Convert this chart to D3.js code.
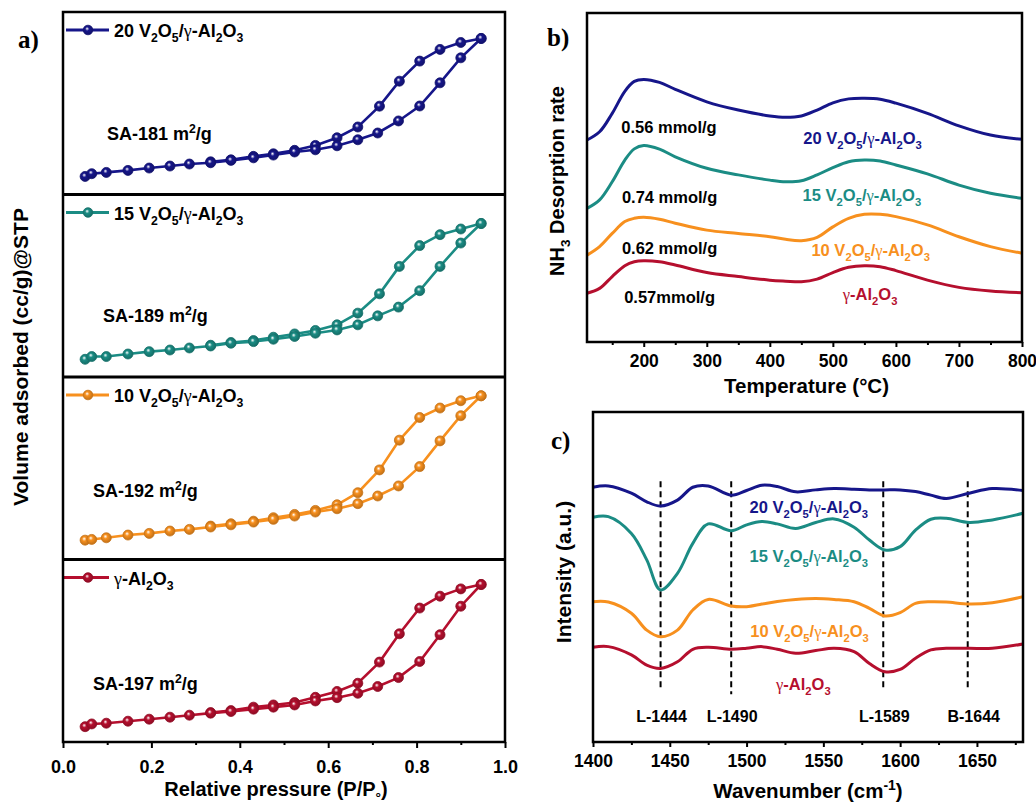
<!DOCTYPE html>
<html>
<head>
<meta charset="utf-8">
<script src="https://cdn.jsdelivr.net/npm/d3@7"></script>
<style>
  body { margin: 0; background: #fff; }
  svg { display: block; }
</style>
</head>
<body>
<svg id="chart" width="1036" height="804"></svg>
<script>
"use strict";

// ---- a) N2 isotherms ----
const pressureAds = [0.05, 0.065, 0.098, 0.147, 0.195, 0.242, 0.286, 0.334, 0.38, 0.431, 0.476,
    0.524, 0.571, 0.62, 0.667, 0.712, 0.759, 0.807, 0.853, 0.9, 0.946];
const pressureDes = [0.946, 0.9, 0.853, 0.807, 0.761, 0.716, 0.667, 0.62, 0.571, 0.524, 0.476, 0.431, 0.38, 0.334];

const volAds20 = [9.9, 11.4, 12.1, 13.2, 14.5, 15.6, 16.7, 17.4, 18.7, 20.1, 21.6, 23.3, 24.5, 26.7, 30.0, 33.7, 40.3, 48.5, 61.2, 74.9, 85.5];
const volDes20 = [85.5, 83.3, 79.5, 73.1, 62.1, 48.4, 37.0, 31.1, 26.9, 24.2, 22.3, 20.9, 19.0, 17.9];
const volAds15 = [9.7, 11.2, 11.2, 12.6, 13.9, 14.8, 15.9, 17.0, 18.5, 19.4, 20.7, 22.2, 24.0, 25.8, 28.6, 33.5, 38.3, 47.3, 60.6, 73.4, 84.1];
const volDes15 = [84.1, 81.1, 78.0, 72.0, 60.6, 45.6, 35.0, 28.6, 25.5, 23.6, 21.8, 20.0, 18.9, 17.4];
const volAds10 = [10.6, 11.0, 11.9, 13.4, 14.3, 15.6, 16.5, 17.8, 19.0, 20.5, 22.0, 23.8, 26.0, 27.8, 30.6, 34.8, 40.3, 50.9, 65.0, 78.8, 89.7];
const volDes10 = [89.7, 87.0, 83.0, 77.8, 65.4, 49.1, 36.6, 30.0, 26.9, 24.7, 22.9, 21.0, 19.6, 18.3];
const volAdsAl = [8.4, 9.9, 10.3, 11.4, 12.5, 13.6, 14.7, 15.8, 16.7, 18.0, 19.1, 20.3, 22.5, 24.3, 26.7, 30.4, 35.3, 44.1, 58.8, 74.4, 86.3];
const volDesAl = [86.3, 83.9, 79.9, 73.4, 59.3, 43.8, 32.2, 27.7, 24.5, 21.6, 20.3, 19.1, 17.2, 16.1];

const sampleNames = ["20 V_2O_5/γ-Al_2O_3", "15 V_2O_5/γ-Al_2O_3", "10 V_2O_5/γ-Al_2O_3", "γ-Al_2O_3"];
const sampleColors = ["#16168a", "#1b8c84", "#f7901e", "#b50f2e"];
const surfaceAreas = ["SA-181 m^2/g", "SA-189 m^2/g", "SA-192 m^2/g", "SA-197 m^2/g"];
const pressureTicks = [0, 0.2, 0.4, 0.6, 0.8, 1.0];

// ---- b) NH3-TPD ----
const tpdTemp = [110, 130, 150, 170, 185, 200, 225, 250, 300, 350, 400, 425, 450, 475, 500, 525, 550, 575, 600, 650, 700, 750, 800];
const tpd20 = [61.4, 63.9, 69.5, 76.2, 79.2, 79.8, 78.9, 76.8, 73.0, 70.5, 68.7, 68.3, 68.7, 70.5, 72.7, 73.9, 74.1, 73.8, 72.6, 69.5, 65.7, 62.9, 61.6];
const tpd15 = [40.6, 43.2, 48.7, 55.3, 58.7, 59.7, 58.6, 56.3, 52.8, 50.8, 49.2, 48.7, 49.0, 50.8, 53.0, 54.8, 55.3, 55.0, 53.8, 51.1, 47.7, 45.2, 43.7];
const tpd10 = [26.4, 29.0, 33.0, 36.6, 37.6, 37.9, 37.3, 36.1, 34.0, 33.0, 32.0, 31.2, 30.8, 31.8, 35.0, 37.6, 38.8, 38.8, 38.1, 35.6, 32.0, 29.0, 27.0];
const tpdAl = [14.8, 16.3, 19.9, 23.2, 24.4, 24.7, 24.4, 23.4, 21.1, 19.9, 18.8, 18.5, 18.3, 19.1, 21.1, 22.7, 23.2, 22.9, 21.7, 18.8, 16.6, 15.5, 15.0];
const acidAmounts = ["0.56 mmol/g", "0.74 mmol/g", "0.62 mmol/g", "0.57mmol/g"];
const tempTicks = [200, 300, 400, 500, 600, 700, 800];

// ---- c) Py-IR ----
const irWave = [1400, 1410, 1425, 1435, 1444, 1455, 1465, 1475, 1490, 1500, 1510, 1520, 1532, 1545, 1557, 1570, 1580, 1590, 1600, 1610, 1620, 1630, 1645, 1660, 1680];
const ir20 = [77.2, 77.6, 75.4, 72.8, 71.5, 73.3, 77.2, 77.6, 74.8, 76.2, 77.8, 77.4, 75.8, 76.4, 76.8, 76.6, 76.4, 76.4, 76.4, 75.9, 74.8, 73.8, 75.4, 76.8, 76.2];
const ir15 = [68.1, 68.3, 63.2, 55.2, 46.1, 51.1, 60.2, 66.1, 64.0, 65.8, 66.8, 66.1, 64.7, 66.5, 67.6, 65.1, 61.2, 58.2, 59.2, 64.2, 67.5, 67.8, 66.5, 67.3, 69.3];
const ir10 = [42.5, 42.4, 39.0, 33.9, 31.9, 33.9, 40.0, 43.2, 41.2, 41.0, 41.8, 42.6, 43.2, 43.5, 43.2, 42.5, 40.5, 38.2, 39.2, 42.0, 42.5, 42.4, 41.8, 42.2, 44.0];
const irAl = [28.7, 28.9, 26.4, 23.3, 22.3, 24.3, 28.1, 28.7, 28.1, 28.4, 28.9, 28.1, 26.9, 27.7, 28.4, 27.4, 23.8, 21.3, 22.0, 25.4, 27.9, 28.4, 28.4, 28.4, 29.7];
const irBands = [1444, 1490, 1589, 1644];
const irBandLabels = ["L-1444", "L-1490", "L-1589", "B-1644"];
const waveTicks = [1400, 1450, 1500, 1550, 1600, 1650];

const FONT = "'Liberation Sans', Arial, Helvetica, sans-serif";
const SERIF = "'Liberation Serif', 'Times New Roman', serif";

const svg = d3.select("#chart");
svg.append("rect").attr("width", 1036).attr("height", 804).attr("fill", "#fff");

// text with _x subscripts, ^x superscripts, {..} groups, serif gamma
function richText(g, x, y, str, size, color, anchor) {
    const t = g.append("text")
        .attr("x", x).attr("y", y)
        .attr("font-family", FONT).attr("font-weight", "bold")
        .attr("font-size", size).attr("fill", color || "#000")
        .attr("text-anchor", anchor || "start");
    const parts = str.match(/_\{[^}]*\}|\^\{[^}]*\}|_.|\^.|γ|[^_^γ]+/g);
    let shift = 0;
    parts.forEach((p) => {
        let kind = "n", s = p;
        if (p[0] === "_" || p[0] === "^") {
            kind = p[0] === "_" ? "sub" : "sup";
            s = p.slice(1).replace(/[{}]/g, "");
        } else if (p === "γ") kind = "g";
        const ts = t.append("tspan").text(s);
        let target = 0;
        if (kind === "sub") { target = size * 0.28; ts.attr("font-size", size * 0.68); }
        if (kind === "sup") { target = -size * 0.38; ts.attr("font-size", size * 0.68); }
        if (kind === "g") ts.attr("font-family", SERIF).attr("font-weight", "normal");
        if (target - shift !== 0) ts.attr("dy", target - shift);
        shift = target;
    });
    return t;
}

// shaded ball markers
const defs = svg.append("defs");
sampleColors.forEach((c, i) => {
    const grad = defs.append("radialGradient").attr("id", "ball" + i)
        .attr("cx", "45%").attr("cy", "45%").attr("r", "60%").attr("fx", "40%").attr("fy", "35%");
    grad.append("stop").attr("offset", "0%").attr("stop-color", "#fff");
    grad.append("stop").attr("offset", "35%").attr("stop-color", c);
    grad.append("stop").attr("offset", "100%").attr("stop-color", d3.color(c).darker(0.8));
});

function styleAxis(g, size) {
    g.select(".domain").remove();
    g.selectAll("line").attr("stroke", "#000").attr("stroke-width", 2);
    g.selectAll("text").attr("font-family", FONT).attr("font-weight", "bold")
        .attr("font-size", size).attr("fill", "#000");
}

// ================= panel a =================
const aL = 63, aR = 505, aT = 12, aB = 742;
const subH = (aB - aT) / 4;
const xA = d3.scaleLinear().domain([0, 1]).range([aL, aR]);
const adsSets = [volAds20, volAds15, volAds10, volAdsAl];
const desSets = [volDes20, volDes15, volDes10, volDesAl];
const saPos = [[107, 140], [103, 322], [93, 497], [93, 690]];

const panelA = svg.append("g");
adsSets.forEach((ads, i) => {
    const top = aT + i * subH;
    const yA = d3.scaleLinear().domain([0, 100]).range([top + subH, top]);
    const line = d3.line().x((d) => xA(d[0])).y((d) => yA(d[1]));
    const adsPts = pressureAds.map((p, k) => [p, ads[k]]);
    const desPts = pressureDes.map((p, k) => [p, desSets[i][k]]);
    const g = panelA.append("g");
    [desPts, adsPts].forEach((pts) => {
        g.append("path").attr("d", line(pts)).attr("fill", "none")
            .attr("stroke", sampleColors[i]).attr("stroke-width", 2.6);
    });
    g.selectAll("circle.m").data(desPts.concat(adsPts)).enter().append("circle")
        .attr("cx", (d) => xA(d[0])).attr("cy", (d) => yA(d[1])).attr("r", 5)
        .attr("fill", `url(#ball${i})`).attr("stroke", d3.color(sampleColors[i]).darker(0.6))
        .attr("stroke-width", 0.8);

    // legend
    const ly = top + 18;
    g.append("line").attr("x1", i === 3 ? aL : aL + 3).attr("x2", aL + 46).attr("y1", ly).attr("y2", ly)
        .attr("stroke", sampleColors[i]).attr("stroke-width", 3);
    g.append("circle").attr("cx", aL + 25).attr("cy", ly).attr("r", 4.8)
        .attr("fill", `url(#ball${i})`).attr("stroke", d3.color(sampleColors[i]).darker(0.6)).attr("stroke-width", 0.8);
    richText(g, aL + 51, ly + 7, sampleNames[i], 18, "#000");

    richText(g, saPos[i][0], saPos[i][1], surfaceAreas[i], 18, "#000");
});

// frame and separators
panelA.append("rect").attr("x", aL).attr("y", aT).attr("width", aR - aL).attr("height", aB - aT)
    .attr("fill", "none").attr("stroke", "#000").attr("stroke-width", 2.5);
[1, 2, 3].forEach((k) => {
    panelA.append("line").attr("x1", aL).attr("x2", aR)
        .attr("y1", aT + k * subH).attr("y2", aT + k * subH)
        .attr("stroke", "#000").attr("stroke-width", 3);
});

panelA.append("g").attr("transform", `translate(0,${aB})`)
    .call(d3.axisBottom(xA).tickValues(pressureTicks).tickFormat(d3.format(".1f")).tickSize(6).tickPadding(12))
    .call((g) => styleAxis(g, 18));
panelA.append("g").attr("transform", `translate(0,${aB})`)
    .call(d3.axisBottom(xA).tickValues([0.1, 0.3, 0.5, 0.7, 0.9]).tickFormat("").tickSize(3))
    .call((g) => styleAxis(g, 18));

richText(panelA, (aL + aR) / 2 - 8, 796, "Relative pressure (P/P_{°})", 20, "#000", "middle");
richText(panelA.append("g").attr("transform", "translate(28,357) rotate(-90)"), 0, 0,
    "Volume adsorbed (cc/g)@STP", 21, "#000", "middle");
panelA.append("text").attr("x", 18).attr("y", 48).attr("font-family", SERIF)
    .attr("font-weight", "bold").attr("font-size", 25).text("a)");

// ================= panel b =================
const bL = 587, bR = 1022, bT = 13, bB = 342;
const xB = d3.scaleLinear().domain([110, 800]).range([bL, bR]);
const yB = d3.scaleLinear().domain([0, 100]).range([bB, bT]);
const tpdSets = [tpd20, tpd15, tpd10, tpdAl];
const panelB = svg.append("g");
const lineB = d3.line().curve(d3.curveCatmullRom.alpha(0.5)).x((d) => xB(d[0])).y((d) => yB(d[1]));
tpdSets.forEach((vals, i) => {
    panelB.append("path").attr("d", lineB(tpdTemp.map((t, k) => [t, vals[k]])))
        .attr("fill", "none").attr("stroke", sampleColors[i]).attr("stroke-width", 3);
});
const acidPos = [[240, 133], [241, 203], [241, 254], [241, 303]];
const namePosB = [[547, 144], [546, 201], [560, 256], [559, 300]];
acidAmounts.forEach((s, i) => {
    richText(panelB, xB(acidPos[i][0]), acidPos[i][1], s, 16.5, "#000", "middle");
    richText(panelB, xB(namePosB[i][0]), namePosB[i][1], sampleNames[i], 16.5, sampleColors[i], "middle");
});
panelB.append("rect").attr("x", bL).attr("y", bT).attr("width", bR - bL).attr("height", bB - bT)
    .attr("fill", "none").attr("stroke", "#000").attr("stroke-width", 2.5);
panelB.append("g").attr("transform", `translate(0,${bB})`)
    .call(d3.axisBottom(xB).tickValues(tempTicks).tickFormat(d3.format("d")).tickSize(5).tickPadding(8))
    .call((g) => styleAxis(g, 17.5));
panelB.append("g").attr("transform", `translate(0,${bB})`)
    .call(d3.axisBottom(xB).tickValues([150, 250, 350, 450, 550, 650, 750]).tickFormat("").tickSize(3))
    .call((g) => styleAxis(g, 17.5));
richText(panelB, (bL + bR) / 2 + 2, 393, "Temperature (°C)", 20.5, "#000", "middle");
richText(panelB.append("g").attr("transform", "translate(564,181) rotate(-90)"), 0, 0,
    "NH_3 Desorption rate", 20, "#000", "middle");
panelB.append("text").attr("x", 547).attr("y", 46).attr("font-family", SERIF)
    .attr("font-weight", "bold").attr("font-size", 25).text("b)");

// ================= panel c =================
const cL = 593, cR = 1023, cT = 412, cB = 742;
const xC = d3.scaleLinear().domain([1400, 1680]).range([cL, cR]);
const yC = d3.scaleLinear().domain([0, 100]).range([cB, cT]);
const irSets = [ir20, ir15, ir10, irAl];
const panelC = svg.append("g");
const lineC = d3.line().curve(d3.curveCatmullRom.alpha(0.5)).x((d) => xC(d[0])).y((d) => yC(d[1]));
irBands.forEach((w, i) => {
    panelC.append("line").attr("x1", xC(w)).attr("x2", xC(w))
        .attr("y1", yC(79)).attr("y2", yC(i === 1 ? 14.5 : 16.5))
        .attr("stroke", "#000").attr("stroke-width", 2).attr("stroke-dasharray", "6,4");
    richText(panelC, xC(w) + (i === 3 ? 6 : 1), 722, irBandLabels[i], 16, "#000", "middle");
});
irSets.forEach((vals, i) => {
    panelC.append("path").attr("d", lineC(irWave.map((w, k) => [w, vals[k]])))
        .attr("fill", "none").attr("stroke", sampleColors[i]).attr("stroke-width", 3);
});
const namePosC = [[1540.5, 513], [1540.5, 562], [1541, 637], [1537, 690]];
sampleNames.forEach((s, i) => {
    richText(panelC, xC(namePosC[i][0]), namePosC[i][1], s, 16.5, sampleColors[i], "middle");
});
panelC.append("rect").attr("x", cL).attr("y", cT).attr("width", cR - cL).attr("height", cB - cT)
    .attr("fill", "none").attr("stroke", "#000").attr("stroke-width", 2.5);
panelC.append("g").attr("transform", `translate(0,${cB})`)
    .call(d3.axisBottom(xC).tickValues(waveTicks).tickFormat(d3.format("d")).tickSize(5).tickPadding(8))
    .call((g) => styleAxis(g, 17.5));
panelC.append("g").attr("transform", `translate(0,${cB})`)
    .call(d3.axisBottom(xC).tickValues([1425, 1475, 1525, 1575, 1625, 1675]).tickFormat("").tickSize(3))
    .call((g) => styleAxis(g, 17.5));
richText(panelC, (cL + cR) / 2, 798, "Wavenumber (cm^{-1})", 20.5, "#000", "middle");
richText(panelC.append("g").attr("transform", "translate(571,572) rotate(-90)"), 0, 0,
    "Intensity (a.u.)", 21, "#000", "middle");
panelC.append("text").attr("x", 551).attr("y", 449).attr("font-family", SERIF)
    .attr("font-weight", "bold").attr("font-size", 25).text("c)");
</script>
</body>
</html>
